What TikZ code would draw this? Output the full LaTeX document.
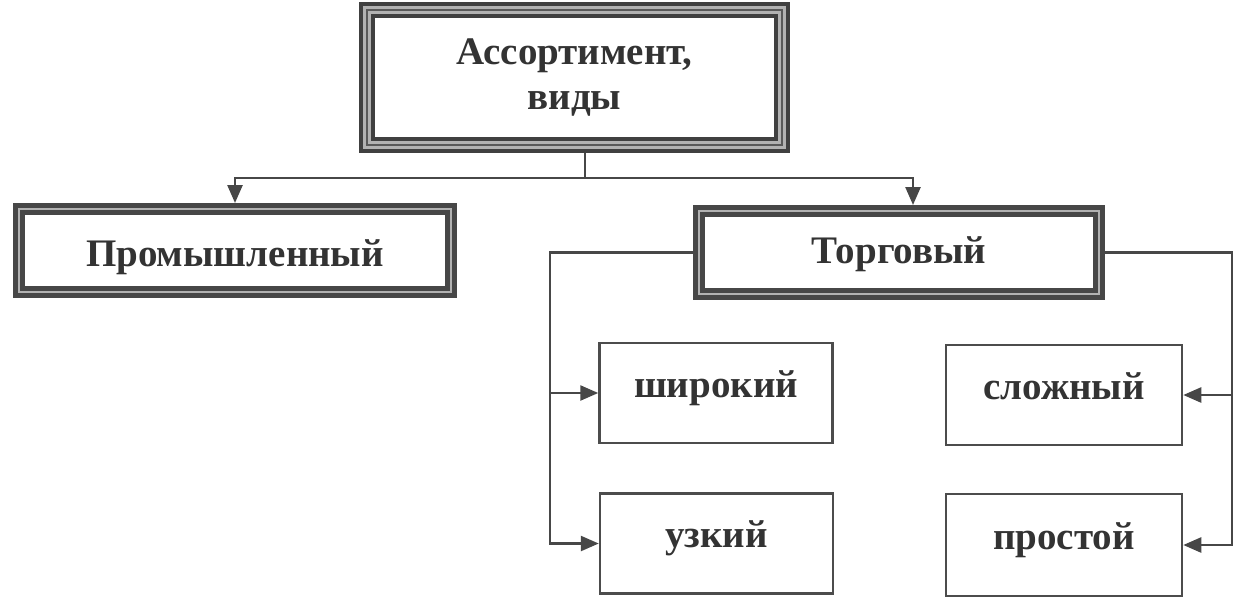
\documentclass[tikz,border=0pt]{standalone}
\usepackage{fontspec}
\setmainfont{Liberation Serif}
\usetikzlibrary{arrows.meta}
\begin{document}
\begin{tikzpicture}[x=1pt,y=-1pt,
  txt/.style={font=\fontsize{39}{45}\selectfont\bfseries, text=black!80},
  mainbox/.style={txt, draw=black!75, line width=4pt, double=gray!60, double distance=8pt,
    fill=white, inner sep=0pt, outer sep=8pt, align=center,
    minimum width=415pt, minimum height=135pt},
  thickbox/.style={txt, draw=black!72, line width=5.25pt, double=gray!60, double distance=1.5pt,
    fill=white, inner sep=0pt, outer sep=6pt, minimum height=83pt},
  leafbox/.style={txt, draw=black!70, line width=2.5pt, fill=white, inner sep=0pt,
    outer sep=1.25pt, minimum width=233pt, minimum height=100pt,
    text height=26pt, text depth=18pt},
  conn/.style={draw=black!72, line width=2.5pt},
  arr/.style={conn, -{Triangle[length=18pt,width=15pt]}}
]
\useasboundingbox[fill=white] (0,0) rectangle (1257,603);

% nodes
\node[mainbox] (top) at (574.5,77.5) {Ассортимент,\\виды};
\node[thickbox, minimum width=432pt, text height=32pt, text depth=0pt] (prom) at (235,250.5) {Промышленный};
\node[thickbox, minimum width=400pt, text height=22pt, text depth=0pt] (torg) at (899,252.5) {Торговый};
\node[leafbox] (shir) at (716,393) {широкий};
\node[leafbox] (uzk) at (716.5,543.5) {узкий};
\node[leafbox, minimum width=236pt] (slozh) at (1064,395) {сложный};
\node[leafbox, minimum width=236pt, minimum height=102pt] (prost) at (1064,545) {простой};

% inner line of the top box border
\draw[black!65, line width=1.5pt] ([shift={(8,8)}]top.north west) rectangle ([shift={(-8,-8)}]top.south east);

% coordinates for the connector routes
\coordinate (bus) at (585,178);
\coordinate (tarr) at (913,0);
\coordinate (lbus) at (550,0);
\coordinate (rbus) at (1232,0);

% top connectors
\draw[conn] (top.south -| bus) -- (bus);
\draw[arr] (bus) -| (prom.north);
\draw[arr] (bus) -| (torg.north -| tarr);

% left bus
\draw[arr] (torg.west) -| (uzk.west -| lbus) -- (uzk.west);
\draw[arr] (shir.west -| lbus) -- (shir.west);

% right bus
\draw[arr] (torg.east) -| (prost.east -| rbus) -- (prost.east);
\draw[arr] (slozh.east -| rbus) -- (slozh.east);
\end{tikzpicture}
\end{document}
